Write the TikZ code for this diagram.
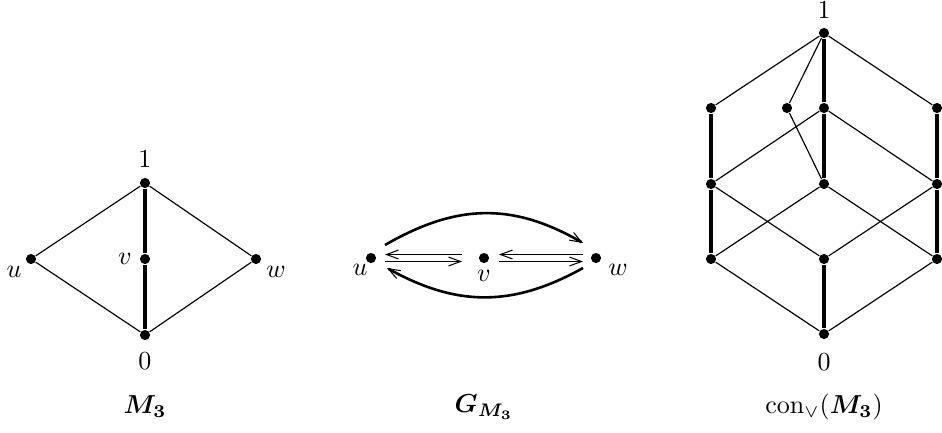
\documentclass[tikz,border=0pt]{standalone}
\usepackage{bm}
\usetikzlibrary{arrows.meta,calc}
\begin{document}
\begin{tikzpicture}[x=0.3846pt,y=-0.3846pt,
  dot/.style={circle,fill=black,inner sep=0pt,minimum size=3.9pt},
  thin/.style={line width=0.45pt},
  thick/.style={line width=1.3pt},
  lbl/.style={inner sep=0pt},
  arr/.style={line width=0.75pt,-{Straight Barb[length=4.6pt,width=3.4pt,line width=0.4pt]}},
  arc/.style={line width=1pt,-{Straight Barb[length=4.6pt,width=3.4pt,line width=0.4pt]}}]
\useasboundingbox (0,0) rectangle (942,432);
% ---------- M3 ----------
\node[dot] (a1) at (145,183) {};
\node[dot] (av) at (145,259) {};
\node[dot] (a0) at (145,335) {};
\node[dot] (au) at (31,259) {};
\node[dot] (aw) at (256,259) {};
\draw[thin] (au) -- (a1) -- (aw) -- (a0) -- (au);
\draw[thick] (a1) -- (av) -- (a0);
\node[lbl] (la1) at (145,159) {$1$};
\node[lbl] (la0) at (145,361) {$0$};
\node[lbl] (lau) at (14,272) {$u$};
\node[lbl] (lav) at (125,259) {$v$};
\node[lbl] (law) at (276,272) {$w$};
\node[lbl] (lam) at (145,407) {$\bm{M_3}$};
% ---------- G_{M3} ----------
\node[dot] (bu) at (371,258) {};
\node[dot] (bv) at (484,258) {};
\node[dot] (bw) at (596,258) {};
\node[lbl] (lbu) at (360,270) {$u$};
\node[lbl] (lbv) at (484,276) {$v$};
\node[lbl] (lbw) at (618,270) {$w$};
\draw[arr] ($(bv)+(-22,-3.5)$) -- ($(bu)+(14,-3.5)$);
\draw[arr] ($(bu)+(14,3.5)$) -- ($(bv)+(-22,3.5)$);
\draw[arr] ($(bw)+(-13,-3.5)$) -- ($(bv)+(15,-3.5)$);
\draw[arr] ($(bv)+(15,3.5)$) -- ($(bw)+(-13,3.5)$);
\draw[arc] ($(bu)+(14,-13)$) .. controls +(71,-41) and +(-71,-41) .. ($(bw)+(-13,-15)$);
\draw[arc] ($(bw)+(-13,10)$) .. controls +(-70,39) and +(70,39) .. ($(bu)+(16,10)$);
\node[lbl] (lbg) at (484,407) {$\bm{G_{M_3}}$};
% ---------- con(M3) ----------
\node[dot] (c1) at (824,33) {};
\node[dot] (c2l) at (711,108) {};
\node[dot] (c2m) at (787,108) {};
\node[dot] (c2c) at (824,108) {};
\node[dot] (c2r) at (937,108) {};
\node[dot] (c3l) at (711,184) {};
\node[dot] (c3c) at (824,184) {};
\node[dot] (c3r) at (937,184) {};
\node[dot] (c4l) at (711,259) {};
\node[dot] (c4c) at (824,259) {};
\node[dot] (c4r) at (937,259) {};
\node[dot] (c0) at (824,334) {};
\draw[thin] (c2l) -- (c1) -- (c2r);
\draw[thin] (c1) -- (c2m) -- (c3c);
\draw[thin] (c3l) -- (c2c) -- (c3r);
\draw[thin] (c3l) -- (c4c) -- (c3r);
\draw[thin] (c4l) -- (c3c) -- (c4r);
\draw[thin] (c4l) -- (c0) -- (c4r);
\draw[thick] (c1) -- (c2c) -- (c3c);
\draw[thick] (c2l) -- (c3l) -- (c4l);
\draw[thick] (c2r) -- (c3r) -- (c4r);
\draw[thick] (c4c) -- (c0);
\node[lbl] (lc1) at (824,10) {$1$};
\node[lbl] (lc0) at (824,362) {$0$};
\node[lbl] (lcc) at (824,407) {$\mathrm{con}_{\vee}(\bm{M_3})$};
\end{tikzpicture}
\end{document}
